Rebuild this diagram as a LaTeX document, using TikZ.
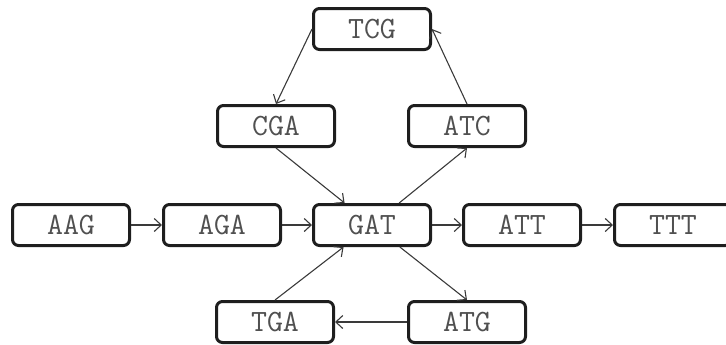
\documentclass[tikz,border=0pt]{standalone}
\usepackage{xcolor}
\usetikzlibrary{arrows.meta}
\definecolor{boxline}{HTML}{1E1E1E}
\definecolor{kmertext}{HTML}{505050}
\definecolor{arrowline}{HTML}{3A3A3A}
\tikzset{
    kmer/.style={draw=boxline, line width=1.5pt, rounded corners=3pt,
        minimum width=58.5pt, minimum height=20.5pt, inner sep=0pt,
        text=kmertext, font=\ttfamily\fontsize{15.5}{17}\selectfont},
    overlap/.style={-{Straight Barb[length=3.5pt, width=6.5pt]},
        draw=arrowline, line width=0.55pt}
}

\begin{document}
\begin{tikzpicture}[x=0.5pt, y=-0.5pt]
            \useasboundingbox (0, 0) rectangle (726, 344);

            % middle row
            \node[kmer] (aag) at (71, 225) {AAG};
            \node[kmer] (aga) at (222, 225) {AGA};
            \node[kmer] (gat) at (372, 225) {GAT};
            \node[kmer] (att) at (522, 225) {ATT};
            \node[kmer] (ttt) at (673, 225) {TTT};

            % cycle above
            \node[kmer] (tcg) at (372, 29) {TCG};
            \node[kmer] (cga) at (276, 126) {CGA};
            \node[kmer] (atc) at (467, 126) {ATC};

            % cycle below
            \node[kmer] (tga) at (275, 322) {TGA};
            \node[kmer] (atg) at (467, 322) {ATG};

            \draw[overlap] (aag) -- (aga);
            \draw[overlap] (aga) -- (gat);
            \draw[overlap] (gat) -- (att);
            \draw[overlap] (att) -- (ttt);

            \draw[overlap] (gat) -- (atc.south);
            \draw[overlap] (atc.north) -- (tcg.east);
            \draw[overlap] (tcg.west) -- (cga.north);
            \draw[overlap] (cga.south) -- (gat);

            \draw[overlap] (gat) -- (atg.north);
            \draw[overlap] (atg) -- (tga);
            \draw[overlap] (tga.north) -- (gat);
        \end{tikzpicture}
\end{document}
